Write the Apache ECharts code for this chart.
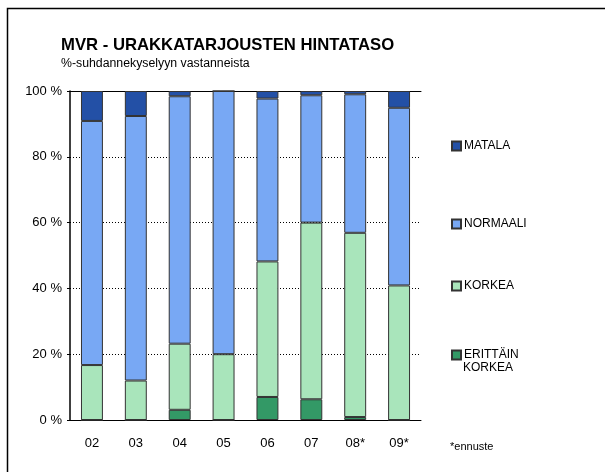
<!DOCTYPE html>
<html>
<head>
<meta charset="utf-8">
<script src="https://cdn.jsdelivr.net/npm/echarts@6/dist/echarts.min.js"></script>
<style>
  html, body { margin: 0; padding: 0; background: #fff; }
  #chart { width: 605px; height: 472px; }
</style>
</head>
<body>
<div id="chart"></div>
<script>
const years = ['02', '03', '04', '05', '06', '07', '08*', '09*'];
const erittainKorkea = [0, 0, 3.1, 0, 7.0, 6.3, 0.9, 0];
const korkea = [16.7, 12.0, 20.1, 20.0, 41.2, 53.7, 56.0, 40.9];
const normaali = [74.2, 80.4, 75.2, 80.0, 49.5, 38.7, 42.1, 54.0];
const matala = [9.1, 7.6, 1.6, 0, 2.3, 1.3, 1.0, 5.1];
const yTicks = [0, 20, 40, 60, 80, 100];

const font = 'Arial, "Liberation Sans", sans-serif';
const chart = echarts.init(document.getElementById('chart'));

const bar = (name, data, color) => ({
    name: name,
    type: 'bar',
    stack: 'total',
    data: data,
    barCategoryGap: '50%',
    itemStyle: { color: color, borderColor: '#333', borderWidth: 1 },
    emphasis: { disabled: true }
});

// one legend per entry so each can sit at its own height like the original
const legendItem = (name, top) => ({
    data: [name],
    left: 446,
    top: top,
    icon: 'rect',
    itemWidth: 9,
    itemHeight: 9,
    selectedMode: false,
    formatter: n => n === 'ERITTÄIN KORKEA' ? 'ERITTÄIN' : n,
    textStyle: { fontFamily: font, fontSize: 12, color: '#000', padding: [0, 0, 0, -2] }
});

chart.setOption({
    animation: false,
    textStyle: { fontFamily: font },
    title: {
        text: 'MVR - URAKKATARJOUSTEN HINTATASO',
        subtext: '%-suhdannekyselyyn vastanneista',
        left: 56,
        top: 32,
        itemGap: 4,
        textStyle: { fontFamily: font, fontSize: 16.7, fontWeight: 'bold', color: '#000' },
        subtextStyle: { fontFamily: font, fontSize: 12.3, color: '#000' }
    },
    legend: [
        legendItem('MATALA', 135),
        legendItem('NORMAALI', 213),
        legendItem('KORKEA', 275),
        legendItem('ERITTÄIN KORKEA', 344)
    ],
    grid: { left: 70, right: 184, top: 91, bottom: 52 },
    xAxis: [{
        type: 'category',
        data: years,
        axisLine: { lineStyle: { color: '#000', width: 1 } },
        axisTick: { length: 5, lineStyle: { color: '#000' } },
        axisLabel: { color: '#000', fontSize: 13, margin: 17, fontFamily: font }
    }, {
        type: 'category',
        data: years,
        position: 'top',
        axisLine: { show: true, lineStyle: { color: '#000', width: 1 } },
        axisTick: { show: false },
        axisLabel: { show: false }
    }],
    yAxis: {
        type: 'value',
        min: 0,
        max: 100,
        interval: 20,
        axisLine: { show: true, lineStyle: { color: '#000', width: 1.5 } },
        axisTick: { show: true, length: 3, lineStyle: { color: '#000' } },
        axisLabel: {
            color: '#000', fontSize: 13, margin: 8, fontFamily: font,
            formatter: v => yTicks.includes(v) ? v + ' %' : ''
        },
        splitLine: { lineStyle: { color: '#000', type: [1, 2], width: 1 } }
    },
    graphic: [
        {
            type: 'polyline',
            shape: { points: [[7.5, 480], [7.5, 8.5], [605, 8.5]] },
            style: { fill: 'none', stroke: '#000', lineWidth: 1.5 },
            silent: true
        },
        {
            type: 'text',
            left: 463,
            top: 362,
            style: { text: 'KORKEA', font: '12px ' + font, fill: '#000' }
        },
        {
            type: 'text',
            left: 450,
            top: 441,
            style: { text: '*ennuste', font: '11px ' + font, fill: '#000' }
        }
    ],
    series: [
        bar('ERITTÄIN KORKEA', erittainKorkea, '#339966'),
        bar('KORKEA', korkea, '#A9E5BB'),
        bar('NORMAALI', normaali, '#78A8F4'),
        bar('MATALA', matala, '#2350A6')
    ]
});
</script>
</body>
</html>
